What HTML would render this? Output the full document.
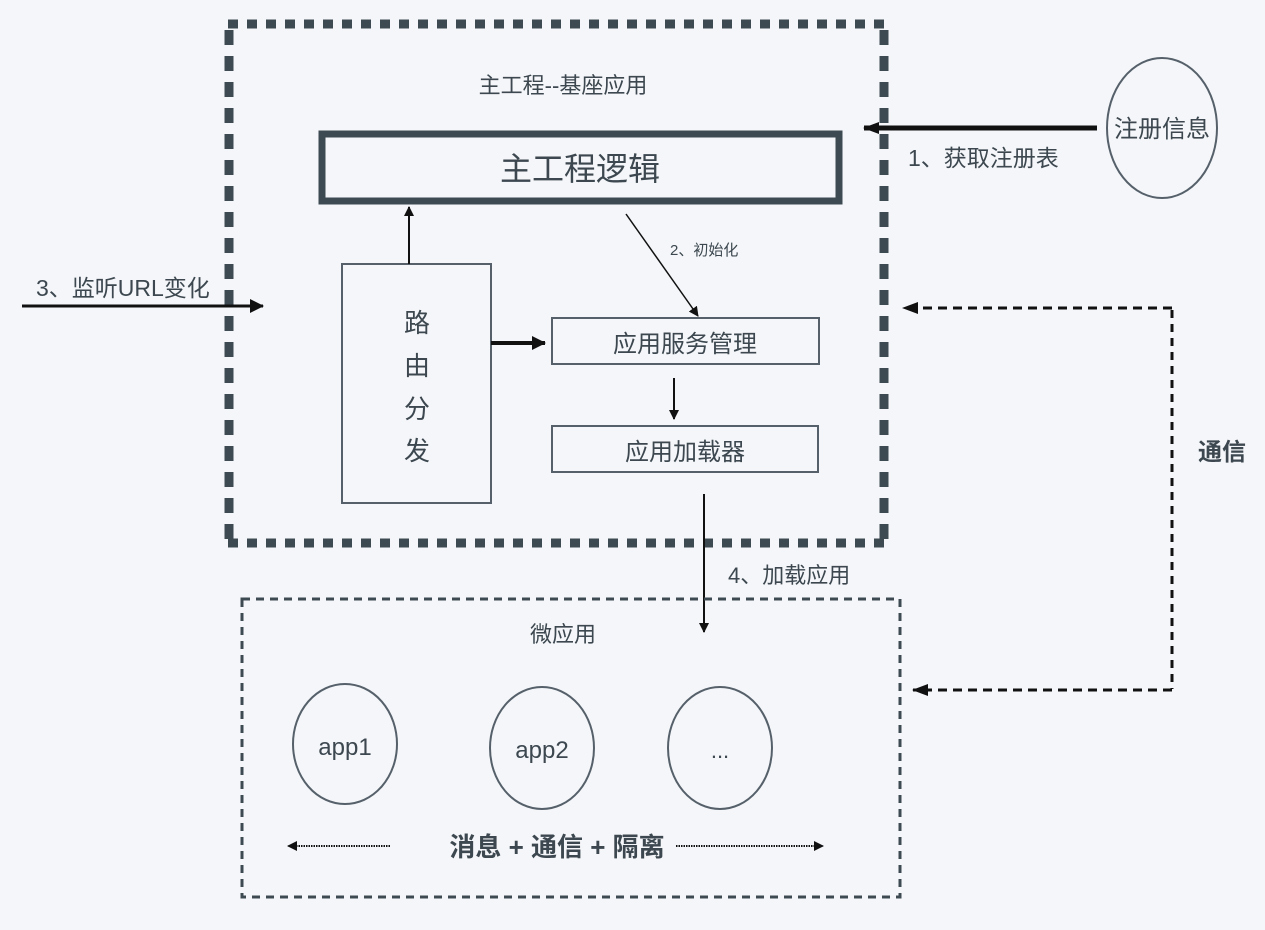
<!DOCTYPE html>
<html><head><meta charset="utf-8"><style>
html,body{margin:0;padding:0;background:#f4f6f9;}
svg{display:block;}
text{font-family:"Liberation Sans","Noto Sans CJK SC",sans-serif;fill:#3c474f;}
</style></head><body>
<svg width="1265" height="930" viewBox="0 0 1265 930" xmlns="http://www.w3.org/2000/svg">
<defs>
<marker id="ah" markerWidth="10" markerHeight="10" refX="9" refY="5" orient="auto" markerUnits="userSpaceOnUse"><path d="M0,0 L10,5 L0,10 z" fill="#111"/></marker>
<marker id="ahb" markerWidth="14" markerHeight="14" refX="13" refY="7" orient="auto" markerUnits="userSpaceOnUse"><path d="M0,0 L14,7 L0,14 z" fill="#111"/></marker>
<marker id="ahs" markerWidth="16" markerHeight="12" refX="15" refY="6" orient="auto" markerUnits="userSpaceOnUse"><path d="M0,0 L16,6 L0,12 z" fill="#111"/></marker>
</defs>
<!-- outer main box -->
<g stroke="#3e4a52" stroke-width="9" fill="none">
<line x1="228" y1="24" x2="887" y2="24" stroke-dasharray="10 9"/>
<line x1="228" y1="543" x2="887" y2="543" stroke-dasharray="10 9"/>
<line x1="229" y1="30" x2="229" y2="540" stroke-dasharray="15 11"/>
<line x1="884" y1="30" x2="884" y2="540" stroke-dasharray="15 11"/>
</g>
<text x="563" y="93" font-size="22" text-anchor="middle">主工程--基座应用</text>
<rect x="322" y="134" width="517" height="67" fill="none" stroke="#3e4a52" stroke-width="7"/>
<text x="580" y="180" font-size="32" text-anchor="middle">主工程逻辑</text>
<rect x="342" y="264" width="149" height="239" fill="none" stroke="#55606a" stroke-width="2"/>
<text x="417" y="332" font-size="26" text-anchor="middle">路</text>
<text x="417" y="375" font-size="26" text-anchor="middle">由</text>
<text x="417" y="418" font-size="26" text-anchor="middle">分</text>
<text x="417" y="460" font-size="26" text-anchor="middle">发</text>
<rect x="552" y="318" width="267" height="46" fill="none" stroke="#55606a" stroke-width="2"/>
<text x="685" y="352" font-size="24" text-anchor="middle">应用服务管理</text>
<rect x="552" y="426" width="266" height="46" fill="none" stroke="#55606a" stroke-width="2"/>
<text x="685" y="460" font-size="24" text-anchor="middle">应用加载器</text>
<!-- arrows inside -->
<line x1="409" y1="264" x2="409" y2="207" stroke="#111" stroke-width="2" marker-end="url(#ah)"/>
<line x1="491" y1="343" x2="545" y2="343" stroke="#111" stroke-width="4" marker-end="url(#ahb)"/>
<line x1="626" y1="214" x2="698" y2="316" stroke="#111" stroke-width="1.5" marker-end="url(#ah)"/>
<text x="670" y="255" font-size="15">2、初始化</text>
<line x1="674" y1="378" x2="674" y2="419" stroke="#111" stroke-width="2" marker-end="url(#ah)"/>
<line x1="704" y1="494" x2="704" y2="632" stroke="#111" stroke-width="2" marker-end="url(#ah)"/>
<text x="728" y="583" font-size="22">4、加载应用</text>
<!-- left arrow -->
<line x1="22" y1="306" x2="263" y2="306" stroke="#111" stroke-width="3" marker-end="url(#ahb)"/>
<text x="36" y="296" font-size="23">3、监听URL变化</text>
<!-- registry -->
<ellipse cx="1162" cy="128" rx="55" ry="70" fill="none" stroke="#55606a" stroke-width="2"/>
<text x="1162" y="137" font-size="24" text-anchor="middle">注册信息</text>
<line x1="1097" y1="128" x2="864" y2="128" stroke="#111" stroke-width="5" marker-end="url(#ahs)"/>
<text x="908" y="166" font-size="23">1、获取注册表</text>
<!-- communication -->
<path d="M1172,310 L1172,689" fill="none" stroke="#111" stroke-width="3" stroke-dasharray="8 6"/>
<line x1="1172" y1="308" x2="903" y2="308" stroke="#111" stroke-width="3" stroke-dasharray="9 6" marker-end="url(#ahs)"/>
<line x1="1172" y1="690" x2="913" y2="690" stroke="#111" stroke-width="3" stroke-dasharray="9 6" marker-end="url(#ahs)"/>
<text x="1198" y="460" font-size="24" font-weight="bold">通信</text>
<!-- micro apps box -->
<rect x="242" y="599" width="658" height="298" fill="none" stroke="#3e4a52" stroke-width="3" stroke-dasharray="8 6"/>
<text x="563" y="642" font-size="22" text-anchor="middle">微应用</text>
<ellipse cx="345" cy="744" rx="52" ry="60" fill="none" stroke="#55606a" stroke-width="2"/>
<text x="345" y="755" font-size="24" text-anchor="middle">app1</text>
<ellipse cx="542" cy="748" rx="52" ry="61" fill="none" stroke="#55606a" stroke-width="2"/>
<text x="542" y="758" font-size="24" text-anchor="middle">app2</text>
<ellipse cx="720" cy="748" rx="52" ry="61" fill="none" stroke="#55606a" stroke-width="2"/>
<text x="720" y="758" font-size="22" text-anchor="middle">...</text>
<line x1="390" y1="846" x2="288" y2="846" stroke="#111" stroke-width="2" stroke-dasharray="1.5 1" marker-end="url(#ah)"/>
<line x1="676" y1="846" x2="823" y2="846" stroke="#111" stroke-width="2" stroke-dasharray="1.5 1" marker-end="url(#ah)"/>
<text x="557" y="856" font-size="26" font-weight="bold" text-anchor="middle">消息 + 通信 + 隔离</text>
</svg>
</body></html>
